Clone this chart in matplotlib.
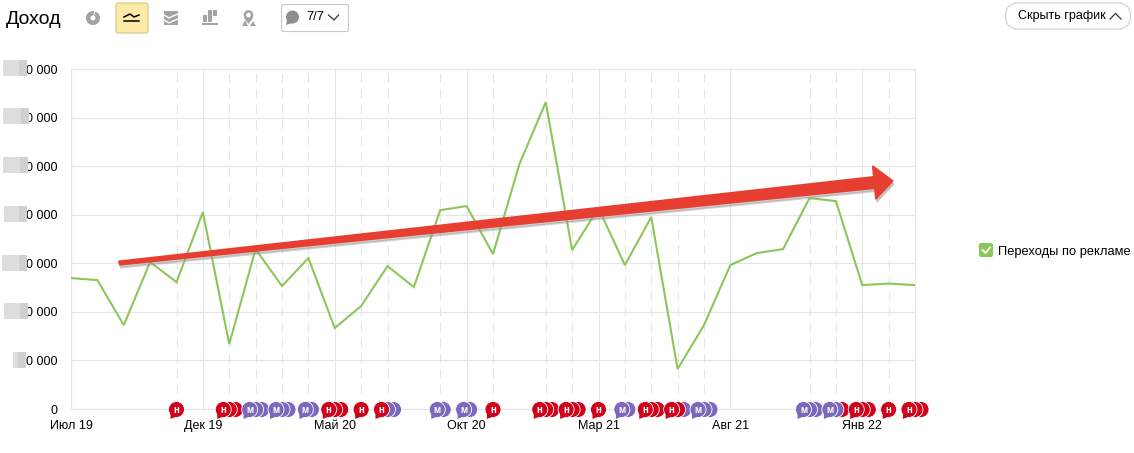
# Доход chart with event bubbles and trend arrow
import matplotlib
matplotlib.use("Agg")
import matplotlib.pyplot as plt
from matplotlib.patches import Circle, FancyBboxPatch, Polygon, Rectangle, Wedge

plt.rcParams['font.family'] = ['Liberation Sans', 'DejaVu Sans']

# data
months = list(range(33))
revenue = [26950, 26540, 17280, 30250, 26130, 40530, 13370, 32920, 25310, 31070, 16670,
           21190, 29420, 25100, 40950, 41770, 31890, 50410, 63170, 32720, 41360, 29630,
           39510, 8230, 17280, 29630, 32100, 32920, 43420, 42800, 25510, 25820, 25510]
xtick_pos = [0, 5, 10, 15, 20, 25, 30]
xtick_labels = ['Июл 19', 'Дек 19', 'Май 20', 'Окт 20', 'Мар 21', 'Авг 21', 'Янв 22']
ytick_pos = [0, 10000, 20000, 30000, 40000, 50000, 60000, 70000]
ytick_labels = ['0'] + ['0 000'] * 7
dashed_months = [4, 6, 7, 8, 9, 11, 12, 14, 16, 18, 19, 21, 22, 23, 24, 28, 29, 31]
event_months = [4, 6, 7, 8, 9, 10, 11, 12, 14, 15, 16, 18, 19, 20, 21, 22, 23, 24, 28, 29, 30, 31, 32]
event_types = ['н', 'ннн', 'ммм', 'ммм', 'мм', 'ннн', 'н', 'нмм', 'мм', 'мм', 'н', 'ннн', 'ннн',
               'н', 'мм', 'ннн', 'ннм', 'ммм', 'ммм', 'ммн', 'ннн', 'н', 'ннн']

GRID = '#e5e5e5'
GREEN = '#8cc65a'
ICON = '#a3a3a3'
colors = {'н': '#d0021b', 'м': '#7b68bd'}

W, H = 1134, 453
fig = plt.figure(figsize=(W / 100, H / 100), dpi=100)
ax = fig.add_axes([71 / W, (H - 409) / H, 844 / W, 340 / H])
ax.set_xlim(0, 32)
ax.set_ylim(0, 70000)
for s in ax.spines.values():
    s.set_color(GRID)
    s.set_linewidth(0.8)
ax.set_axisbelow(True)
ax.grid(axis='y', color=GRID, lw=0.8)
for m in months:
    if m in xtick_pos:
        ax.axvline(m, color=GRID, lw=0.8, zorder=1)
    elif m in dashed_months:
        ax.axvline(m, color=GRID, lw=0.8, dashes=(8, 6), zorder=1)
ax.plot(months, revenue, color=GREEN, lw=1.5, zorder=3, solid_joinstyle='miter')
ax.set_xticks(xtick_pos, xtick_labels, fontsize=9)
ax.set_yticks(ytick_pos, ytick_labels, fontsize=9)
ax.tick_params(axis='both', length=0, colors='black')
ax.tick_params(axis='y', pad=10)
ax.tick_params(axis='x', pad=8)

# overlay in screen pixels for toolbar, legend, arrow
ui = fig.add_axes([0, 0, 1, 1], zorder=5)
ui.set_xlim(0, W)
ui.set_ylim(H, 0)
ui.axis('off')
ui.patch.set_alpha(0)

# hidden y tick digits
for x0, x1, yc in [(3, 27, 68), (3, 29, 116), (3, 28, 165), (4, 27, 214),
                   (2, 27, 263), (4, 28, 311), (13, 26, 360)]:
    ui.add_patch(Rectangle((x0, yc - 8), x1 - x0, 16, fc='#dedddd', ec='none'))
    ui.add_patch(Rectangle((x1 - 8, yc - 8), 8, 16, fc='#cfd0d2', ec='none'))

# event bubbles
step = 6
for m, kinds in zip(event_months, event_types):
    cx = 71 + m * 844 / 32
    n = len(kinds)
    for i, k in enumerate(kinds):
        x = cx + (i - (n - 1) / 2) * step
        z = 10 - i * 0.1
        c = colors[k]
        ui.add_patch(Circle((x, 409.5), 8, fc=c, ec='white', lw=0.6, zorder=z))
        if i == 0:
            ui.add_patch(Polygon([(x - 6, 413), (x - 6, 419), (x, 416.5)], fc=c, ec='none', zorder=z))
            ui.text(x, 410, k, color='white', fontsize=7, fontweight='bold', ha='center',
                    va='center', zorder=z + 1)

# arrow
arrow = [(119, 261.5), (874, 177), (873, 166.5), (892.5, 181), (876, 198.5), (875, 188), (120, 264.5)]
ui.add_patch(Polygon([(x + 1, y + 3) for x, y in arrow], fc='#999999', ec='#999999', lw=1.5,
                     joinstyle='round', alpha=0.45, zorder=12))
ui.add_patch(Polygon(arrow, fc='#e63e30', ec='#e63e30', lw=1.5, joinstyle='round', zorder=13))

# toolbar
ui.text(6, 19.5, 'Доход', fontsize=14, va='center', ha='left')
ui.add_patch(Wedge((93, 18), 7, 0, 360, width=4.5, fc=ICON, ec='none'))
ui.plot([93, 95, 100], [18, 11, 13], color='white', lw=0.7)
ui.add_patch(FancyBboxPatch((116, 3), 32, 30, boxstyle='round,pad=0,rounding_size=2',
                            fc='#ffeba8', ec='#d9c57e', lw=0.8))
ui.plot([124, 130, 134, 139], [17, 14, 17, 15], color='black', lw=1.1)
ui.plot([124, 139], [21, 21], color='black', lw=1.1)
ui.add_patch(Rectangle((164, 11), 14, 14, fc=ICON, ec='none'))
for dy in (0, 5):
    ui.plot([164, 169, 173, 178], [15 + dy, 18 + dy, 16 + dy, 14 + dy], color='white', lw=1)
for x0, y0, h in [(203, 15, 7), (208, 10, 12), (213, 10, 6)]:
    ui.add_patch(Rectangle((x0, y0), 4, h, fc=ICON, ec='none'))
ui.add_patch(Rectangle((202, 23), 16, 2, fc=ICON, ec='none'))
ui.add_patch(Circle((248.5, 15), 3.6, fc='white', ec=ICON, lw=1.8))
ui.add_patch(Polygon([(244, 18), (253, 18), (248.5, 24)], fc=ICON, ec='none'))
ui.add_patch(Polygon([(242, 26), (245, 20), (248, 26)], fc=ICON, ec='none'))
ui.add_patch(Polygon([(250, 26), (253, 21), (256, 26)], fc=ICON, ec='none'))
ui.add_patch(FancyBboxPatch((281.5, 4.5), 67, 27, boxstyle='round,pad=0,rounding_size=2',
                            fc='white', ec='#c8c8c8', lw=0.8))
ui.add_patch(Circle((292.5, 17), 6.5, fc='#8f8f8f', ec='none'))
ui.add_patch(Polygon([(287, 20), (286, 25), (292, 23)], fc='#8f8f8f', ec='none'))
ui.text(306, 17.5, '7/7', fontsize=9.3, va='center')
ui.plot([328.5, 334, 338.5], [15, 20, 15], color='#333333', lw=0.9)

# hide button
ui.add_patch(FancyBboxPatch((1005.5, 3), 125, 26, boxstyle='round,pad=0,rounding_size=13',
                            fc='white', ec='#d0d0d0', lw=0.8))
ui.text(1018, 16, 'Скрыть график', fontsize=9, va='center')
ui.plot([1110, 1115.5, 1121], [19, 13.5, 19], color='#333333', lw=0.9)

# legend
ui.add_patch(FancyBboxPatch((979, 243), 14, 14, boxstyle='round,pad=0,rounding_size=2',
                            fc=GREEN, ec='none'))
ui.plot([982.5, 985.5, 990], [250, 253, 247.5], color='white', lw=1.3)
ui.text(998, 252, 'Переходы по рекламе', fontsize=9.3, va='center')

fig.savefig('out.png', dpi=100)
